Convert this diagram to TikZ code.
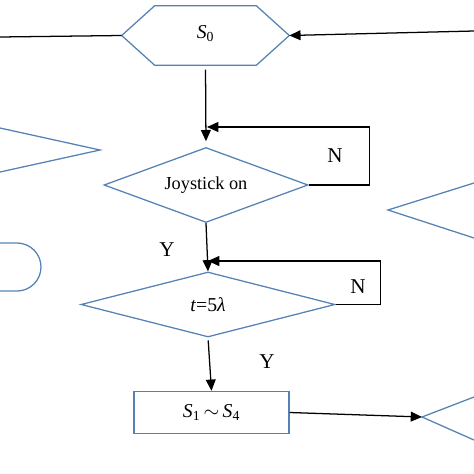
\documentclass[tikz,border=0pt]{standalone}
\usepackage{fontspec}
\setmainfont{Liberation Serif}
\usepackage{xcolor}
\definecolor{ShapeBlue}{rgb}{0.33, 0.51, 0.71}
\usepackage{tikz}
\usetikzlibrary{shapes.geometric,arrows.meta}

\tikzset{
	Decision/.style={diamond, draw=ShapeBlue, line width=0.9pt, inner sep=0pt},
	Process/.style={rectangle, draw=ShapeBlue, line width=1pt, minimum width=3.875cm, minimum height=1.05cm},
	Flow/.style={-{Triangle[length=8pt,width=7pt]}, line width=0.9pt},
	Outline/.style={draw=ShapeBlue, line width=0.9pt},
	Answer/.style={font=\fontsize{15}{17}\selectfont}
}

\begin{document}
\begin{tikzpicture}[x=0.025cm, y=-0.025cm, font=\fontsize{14}{16}\selectfont]
	\useasboundingbox (0,0) rectangle (474,474);
	\node[minimum width=4.175cm, minimum height=1.475cm, inner sep=0pt] (s0) at (205.5,35.5) {\raisebox{5pt}{\textit{S}\textsubscript{0}}};
	\draw[Outline] (s0.west) -- ([xshift=0.825cm]s0.north west) -- ([xshift=-0.825cm]s0.north east) -- (s0.east) -- ([xshift=-0.825cm]s0.south east) -- ([xshift=0.825cm]s0.south west) -- cycle;
	\node[Decision, minimum width=5.1cm, minimum height=1.875cm, aspect=2.72] (joy) at (206,185) {\fontsize{13}{15}\selectfont Joystick on};
	\node[Decision, minimum width=6.35cm, minimum height=1.625cm, aspect=3.9] (wait) at (208,304.5) {\textit{t}=5\textit{λ}};
	\node[Process] (run) at (211.5,412.5) {\textit{S}\textsubscript{1}\,$\sim$\,\textit{S}\textsubscript{4}};
	\node[Answer] (yA) at (167,250) {Y};
	\node[Answer] (nA) at (335,156) {N};
	\node[Answer] (nB) at (358,287) {N};
	\node[Answer] (yB) at (267,362) {Y};
	\coordinate (inL) at (0,37);
	\coordinate (inR) at (474,31);
	\coordinate (jnA) at (207,127);
	\coordinate (jnB) at (208,261);
	\coordinate (tipB) at (422,417);
	% cut-off shapes at the edges
	\draw[Outline] (0,128) -- (100,150) -- (0,172);
	\draw[Outline] (474,183) -- (388,210) -- (474,238);
	\draw[Outline] (474,397) -- (tipB) -- (474,440);
	\draw[Outline] (0,243) -- (17,243) arc[start angle=90, end angle=-90, radius=0.6cm] -- (0,291);
	% connectors
	\draw[line width=0.9pt] (inL) -- (s0.west);
	\draw[Flow] (inR) -- (s0.east);
	\draw[Flow, shorten <=3pt, shorten >=4pt] (s0.south) -- (joy.north);
	\draw[Flow] (joy.east) -- ++(61,0) |- (jnA);
	\draw[Flow] (joy.south) -- (wait.north);
	\draw[Flow] (wait.east) -- ++(45,0) |- (jnB);
	\draw[Flow, shorten <=2pt] (wait.south) -- (run.north);
	\draw[Flow] (run.east) -- (tipB);
\end{tikzpicture}
\end{document}
